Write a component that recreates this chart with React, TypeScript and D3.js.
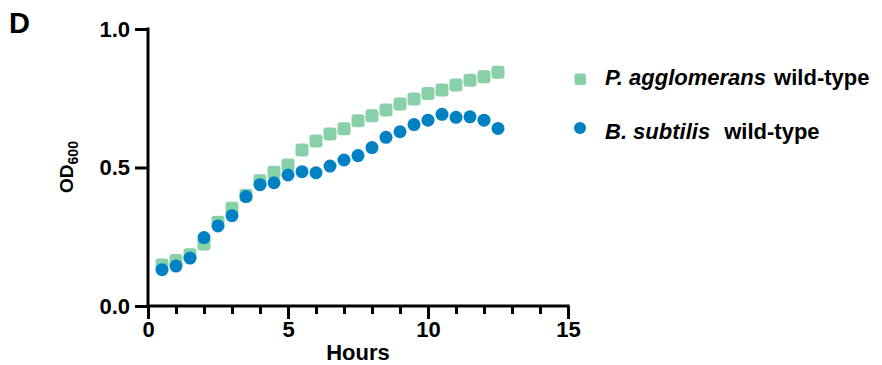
import React, { useEffect, useRef } from 'react';
import * as d3 from 'd3';

// growth curves, sampled every 30 min
const hours = [0.5, 1, 1.5, 2, 2.5, 3, 3.5, 4, 4.5, 5, 5.5, 6, 6.5, 7, 7.5, 8, 8.5, 9, 9.5, 10, 10.5, 11, 11.5, 12, 12.5];
const pantoea = [0.148, 0.164, 0.185, 0.224, 0.302, 0.353, 0.4, 0.452, 0.483, 0.509, 0.563, 0.596, 0.621, 0.64, 0.669, 0.687, 0.708, 0.729, 0.747, 0.767, 0.78, 0.798, 0.815, 0.828, 0.844];
const bacillus = [0.131, 0.144, 0.173, 0.247, 0.289, 0.326, 0.395, 0.438, 0.445, 0.473, 0.485, 0.481, 0.505, 0.527, 0.543, 0.572, 0.609, 0.629, 0.655, 0.671, 0.692, 0.681, 0.683, 0.671, 0.641];
const xTicks = [0, 5, 10, 15];
const yTicks = [0, 0.5, 1];

const GREEN = '#88d0a8';
const BLUE = '#0081c4';
const FONT = '"Liberation Sans", Arial, Helvetica, sans-serif';

const App = () => {
  const svgRef = useRef<SVGSVGElement>(null);

  useEffect(() => {
    const svg = d3.select(svgRef.current);
    svg.selectAll('*').remove();

    const x = d3.scaleLinear().domain([0, 15]).range([148, 568]);
    const y = d3.scaleLinear().domain([0, 1]).range([306, 29]);

    // minor ticks every hour
    svg.append('g')
      .attr('transform', `translate(0,${y(0)})`)
      .call(d3.axisBottom(x).tickValues(d3.range(0, 16)).tickSize(8).tickSizeOuter(0).tickFormat(() => ''))
      .call(g => g.select('.domain').remove())
      .call(g => g.selectAll('line').attr('stroke', '#000').attr('stroke-width', 3));

    // x axis
    svg.append('g')
      .attr('transform', `translate(0,${y(0)})`)
      .call(d3.axisBottom(x).tickValues(xTicks).tickSize(13).tickSizeOuter(0).tickPadding(2).tickFormat(d3.format('d')))
      .call(g => g.select('.domain').attr('stroke', '#000').attr('stroke-width', 3).attr('d', `M${x(0) - 1.5},0H${x(15) + 1.5}`))
      .call(g => g.selectAll('line').attr('stroke', '#000').attr('stroke-width', 3))
      .call(g => g.selectAll('text').attr('fill', '#000').style('font', `bold 22px ${FONT}`));

    // y axis
    svg.append('g')
      .attr('transform', `translate(${x(0)},0)`)
      .call(d3.axisLeft(y).tickValues(yTicks).tickSize(13).tickSizeOuter(0).tickPadding(5).tickFormat(d3.format('.1f')))
      .call(g => g.select('.domain').attr('stroke', '#000').attr('stroke-width', 3).attr('d', `M0,${y(0) + 1.5}V${y(1) - 1.5}`))
      .call(g => g.selectAll('line').attr('stroke', '#000').attr('stroke-width', 3))
      .call(g => g.selectAll('text').attr('fill', '#000').style('font', `bold 22px ${FONT}`));

    // axis titles
    svg.append('text')
      .attr('x', 358).attr('y', 360)
      .attr('text-anchor', 'middle')
      .style('font', `bold 22px ${FONT}`)
      .text('Hours');

    const yt = svg.append('text')
      .attr('transform', 'translate(73,167) rotate(-90)')
      .attr('text-anchor', 'middle')
      .style('font', `bold 19px ${FONT}`);
    yt.append('tspan').text('OD');
    yt.append('tspan').attr('dy', 5).style('font-size', '14px').text('600');

    svg.append('text')
      .attr('x', 9).attr('y', 33)
      .style('font', `bold 29px ${FONT}`)
      .text('D');

    // P. agglomerans squares
    const sq = 13;
    svg.append('g').selectAll('rect')
      .data(hours.map((h, i) => [h, pantoea[i]]))
      .join('rect')
      .attr('x', d => x(d[0]) - sq / 2)
      .attr('y', d => y(d[1]) - sq / 2)
      .attr('width', sq).attr('height', sq)
      .attr('rx', 3)
      .attr('fill', GREEN);

    // B. subtilis circles
    svg.append('g').selectAll('circle')
      .data(hours.map((h, i) => [h, bacillus[i]]))
      .join('circle')
      .attr('cx', d => x(d[0]))
      .attr('cy', d => y(d[1]))
      .attr('r', 6.5)
      .attr('fill', BLUE);

    // legend
    const legend = svg.append('g').style('font', `bold 22px ${FONT}`);
    legend.append('rect').attr('x', 574.5).attr('y', 73.5).attr('width', 11.5).attr('height', 11.5).attr('rx', 2).attr('fill', GREEN);
    const l1 = legend.append('text').attr('x', 605).attr('y', 85);
    l1.append('tspan').style('font-style', 'italic').text('P. agglomerans');
    l1.append('tspan').attr('dx', 2).text(' wild-type');

    legend.append('circle').attr('cx', 580).attr('cy', 128).attr('r', 6).attr('fill', BLUE);
    const l2 = legend.append('text').attr('x', 605).attr('y', 139);
    l2.append('tspan').style('font-style', 'italic').text('B. subtilis');
    l2.append('tspan').attr('dx', 8).text(' wild-type');
  }, []);

  return (
    <svg
      ref={svgRef}
      width={882}
      height={365}
      style={{ position: 'absolute', left: 0, top: 0, background: '#fff' }}
    />
  );
};

export default App;
